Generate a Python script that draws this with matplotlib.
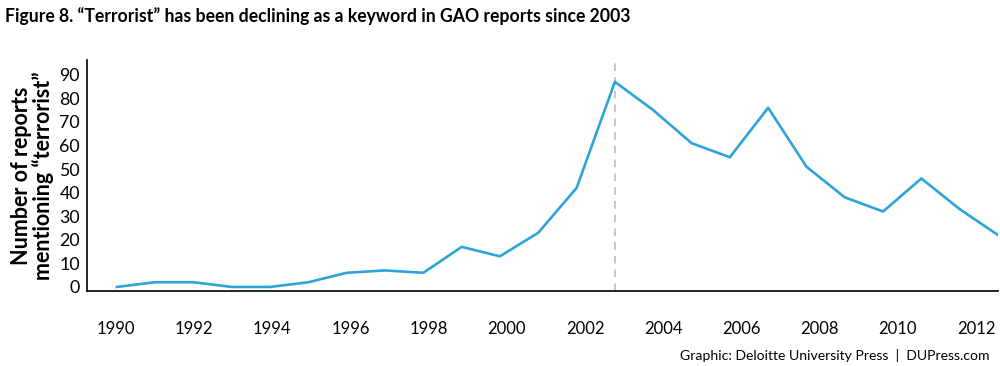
import numpy as np
import matplotlib.pyplot as plt

plt.rcParams['font.family'] = ['Lato', 'DejaVu Sans']

# reports mentioning "terrorist", one point per year 1990-2013
years = list(range(1990, 2014))
reports = [0, 2, 2, 0, 0, 2, 6, 7, 6, 17, 13, 23, 42, 87, 75, 61, 55, 76, 51, 38, 32, 46, 33, 22]
tick_years = [1990, 1992, 1994, 1996, 1998, 2000, 2002, 2004, 2006, 2008, 2010, 2012]
yticks = [0, 10, 20, 30, 40, 50, 60, 70, 80, 90]
peak_year = 2003

blue = '#2ea3d8'

fig = plt.figure(figsize=(10, 3.66), dpi=100)
ax = fig.add_axes([0.087, 0.2057, 0.911, 0.630])

idx = np.arange(len(years))
ax.plot(idx, reports, color=blue, lw=1.9)
ax.axvline(years.index(peak_year), color='#b8b8b8', lw=1.1, ls=(0, (5, 4)), zorder=0)

# tick labels sit on a slightly wider year grid than the data points
scale = 39.1 / 38.3
ax.set_xticks([(y - 1990) * scale - 0.03 for y in tick_years])
ax.set_xticklabels([str(y) for y in tick_years], fontsize=12)
ax.set_yticks(yticks)
ax.set_yticklabels([str(v) for v in yticks], fontsize=12.8)
ax.tick_params(axis='both', length=0)
ax.tick_params(axis='x', pad=22)
ax.tick_params(axis='y', pad=5)

ax.set_xlim(-0.78, 23)
ax.set_ylim(-1.6, 96.2)

for s in ['top', 'right']:
    ax.spines[s].set_visible(False)
ax.spines['left'].set_linewidth(1.2)
ax.spines['bottom'].set_linewidth(1.2)

ax.set_ylabel('Number of reports\nmentioning \u201cterrorist\u201d', fontsize=15.5,
              fontweight='bold', linespacing=1.0, labelpad=4)

fig.text(0.005, 0.955, 'Figure 8. \u201cTerrorist\u201d has been declining as a keyword in GAO reports since 2003',
         fontsize=12.7, fontweight='bold', va='center', ha='left')
fig.text(0.989, 0.03, 'Graphic: Deloitte University Press  |  DUPress.com',
         fontsize=10.1, ha='right', va='center')

fig.savefig('out.png', dpi=100)
